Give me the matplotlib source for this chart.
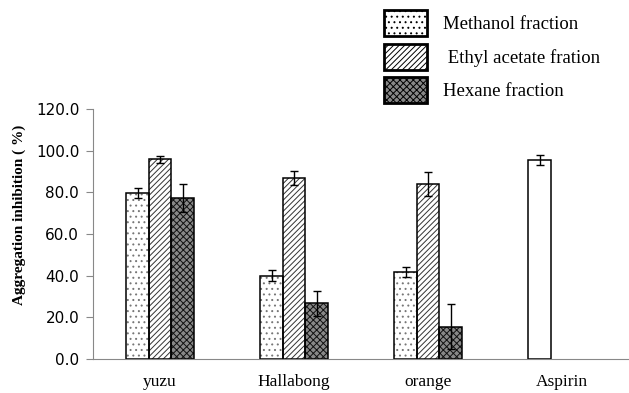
import numpy as np
import matplotlib
matplotlib.use("Agg")
import matplotlib.pyplot as plt
from matplotlib.patches import Patch

categories = ["yuzu", "Hallabong", "orange", "Aspirin"]
series = ["Methanol fraction", " Ethyl acetate fration", "Hexane fraction"]

methanol = [79.8, 40.0, 41.8]
methanol_err = [2.4, 2.6, 2.4]
ethyl = [95.8, 86.8, 84.2]
ethyl_err = [1.8, 3.4, 5.8]
hexane = [77.4, 26.8, 15.6]
hexane_err = [6.8, 6.0, 10.8]
aspirin = 95.6
aspirin_err = 2.5

plt.rcParams['hatch.linewidth'] = 0.7

fig = plt.figure(figsize=(6.29, 3.93), dpi=100)
ax = fig.add_axes([0.148, 0.0865, 0.852, 0.636])

w = 0.168
x = np.arange(3)
ekw = dict(ecolor="black", elinewidth=1, capsize=3, capthick=1)

# hatch layer first (hatch colour = edge colour), then outline on top
ax.bar(x - w, methanol, w, color="white", edgecolor="#777777", hatch="...", linewidth=0)
ax.bar(x, ethyl, w, color="white", edgecolor="#333333", hatch="//////", linewidth=0)
ax.bar(x + w, hexane, w, color="#888888", edgecolor="#111111", hatch="xxxxx", linewidth=0)

ax.bar(x - w, methanol, w, yerr=methanol_err, fill=False, edgecolor="black",
       linewidth=1.1, error_kw=ekw)
ax.bar(x, ethyl, w, yerr=ethyl_err, fill=False, edgecolor="black",
       linewidth=1.1, error_kw=ekw)
ax.bar(x + w, hexane, w, yerr=hexane_err, fill=False, edgecolor="black",
       linewidth=1.1, error_kw=ekw)
ax.bar(3 - w, aspirin, w, yerr=aspirin_err, color="white", edgecolor="black",
       linewidth=1.1, error_kw=ekw)

ax.set_xlim(-0.5, 3.5)
ax.set_ylim(0, 120)
ax.set_yticks(np.arange(0, 121, 20))
ax.set_yticklabels(["%.1f" % v for v in np.arange(0, 121, 20)], fontsize=11)
ax.set_xticks(np.arange(4))
ax.set_xticklabels(categories, fontfamily="Liberation Serif", fontsize=12.5)
ax.tick_params(axis="x", length=0, pad=11)
ax.tick_params(axis="y", length=5, color="#888888", pad=5)

for s in ["top", "right"]:
    ax.spines[s].set_visible(False)
ax.spines["left"].set_color("#888888")
ax.spines["bottom"].set_color("#888888")

ax.set_ylabel("Aggregation inhibition ( %)", fontfamily="Liberation Serif",
              fontweight="bold", fontsize=11)
ax.yaxis.set_label_coords(-0.125, 0.576)

handles = [
    Patch(facecolor="white", edgecolor="black", hatch="...", linewidth=2),
    Patch(facecolor="white", edgecolor="black", hatch="//////", linewidth=2),
    Patch(facecolor="#888888", edgecolor="black", hatch="xxxxx", linewidth=2),
]
fig.legend(handles, series, loc="upper left", bbox_to_anchor=(0.596, 0.998),
           frameon=False, prop={"family": "Liberation Serif", "size": 13.5},
           borderpad=0, handlelength=2.3, handleheight=1.75, labelspacing=0.4,
           handletextpad=0.85)

fig.savefig("out.png", dpi=100)
